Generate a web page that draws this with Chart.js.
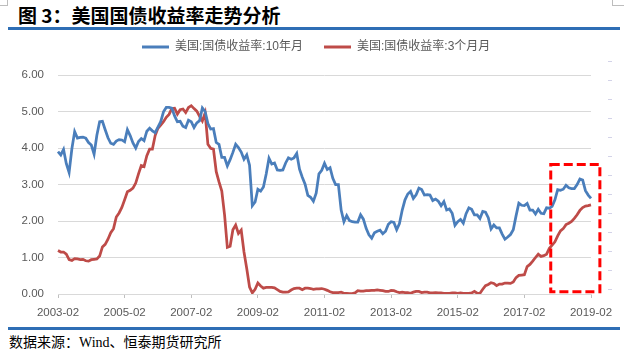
<!DOCTYPE html>
<html><head><meta charset="utf-8">
<script src="https://cdn.jsdelivr.net/npm/chart.js@4.4.1/dist/chart.umd.min.js"></script>
<style>
html,body{margin:0;padding:0;background:#fff;}
#wrap{position:relative;width:624px;height:355px;overflow:hidden;background:#fff;}
#title{position:absolute;left:18px;top:4px;font:bold 19px "Noto Sans CJK SC",sans-serif;color:#000;line-height:22px;white-space:nowrap;}
.rule{position:absolute;left:8px;width:612px;height:3px;background:#2E6EB5;}
#src{position:absolute;left:9px;top:334px;font:14px "Liberation Serif","Noto Sans CJK SC",serif;color:#000;line-height:18px;white-space:nowrap;}
#c{position:absolute;left:0;top:20px;}
.mk{position:absolute;background:#bdbdbd;}
</style></head>
<body>
<div id="wrap">
  <div class="mk" style="left:7px;top:0;width:1px;height:6px"></div>
  <div class="mk" style="left:0;top:5px;width:7px;height:1px"></div>
  <div class="mk" style="left:612px;top:0;width:1px;height:6px"></div>
  <div class="mk" style="left:612px;top:5px;width:12px;height:1px"></div>
  <div id="title">图 3：美国国债收益率走势分析</div>
  <div class="rule" style="top:27px"></div>
  <canvas id="c" width="624" height="305"></canvas>
  <div class="rule" style="top:327px"></div>
  <div id="src">数据来源：Wind、恒泰期货研究所</div>
</div>
<script>
// ---- categories (monthly, 2003-02 .. 2019-02) ----
const months = [];
for (let y = 2003, m = 2; y < 2019 || (y === 2019 && m <= 2); ) {
  months.push(y + '-' + String(m).padStart(2, '0'));
  m++; if (m > 12) { m = 1; y++; }
}
const xTickLabels = ['2003-02','2005-02','2007-02','2009-02','2011-02','2013-02','2015-02','2017-02','2019-02'];
const yTickValues = [0, 1, 2, 3, 4, 5, 6];

const seriesNames = ['美国:国债收益率:10年月', '美国:国债收益率:3个月月'];

// 10-year yield (%)
const yield10y = [
  3.90,3.81,3.96,3.57,3.33,3.98,4.45,4.27,4.29,4.30,4.27,
  4.15,4.08,3.83,4.35,4.72,4.73,4.50,4.28,4.13,4.10,4.19,4.23,
  4.22,4.17,4.50,4.34,4.14,4.00,4.18,4.26,4.20,4.46,4.54,4.47,
  4.42,4.57,4.72,4.99,5.11,5.11,5.09,4.88,4.72,4.73,4.60,4.56,
  4.76,4.72,4.56,4.69,4.75,5.10,5.00,4.67,4.52,4.53,4.15,4.10,
  3.74,3.74,3.51,3.68,3.88,4.10,4.01,3.89,3.69,3.81,3.53,2.42,
  2.52,2.87,2.82,2.93,3.29,3.72,3.56,3.59,3.40,3.39,3.40,3.59,
  3.73,3.69,3.73,3.85,3.42,3.20,3.01,2.70,2.65,2.54,2.76,3.29,
  3.39,3.58,3.41,3.46,3.17,3.00,3.00,2.30,1.98,2.15,2.01,1.98,
  1.97,1.97,2.17,2.05,1.80,1.62,1.53,1.68,1.72,1.75,1.65,1.72,
  1.91,1.98,1.96,1.76,1.93,2.30,2.58,2.74,2.81,2.62,2.72,2.90,
  2.86,2.71,2.72,2.71,2.56,2.60,2.54,2.42,2.53,2.30,2.33,2.21,
  1.88,1.98,2.04,1.94,2.20,2.36,2.32,2.17,2.17,2.07,2.26,2.24,
  2.09,1.78,1.89,1.81,1.81,1.64,1.50,1.56,1.63,1.76,2.14,2.49,
  2.43,2.42,2.48,2.30,2.30,2.19,2.32,2.21,2.20,2.36,2.35,2.40,
  2.58,2.86,2.84,2.87,2.98,2.91,2.89,2.89,3.00,3.15,3.12,2.83,
  2.71,2.62
];

// 3-month yield (%)
const yield3m = [
  1.19,1.15,1.15,1.09,0.94,0.92,0.97,0.96,0.94,0.95,0.91,
  0.90,0.94,0.95,0.96,1.04,1.29,1.36,1.50,1.68,1.79,2.11,2.22,
  2.37,2.58,2.80,2.84,2.90,3.04,3.29,3.52,3.49,3.79,3.97,3.97,
  4.34,4.54,4.63,4.72,4.84,4.92,5.08,5.09,4.93,5.05,5.07,4.97,
  5.11,5.16,5.08,5.01,4.87,4.74,4.96,4.10,3.99,3.97,3.35,3.07,
  2.82,2.17,1.28,1.31,1.76,1.89,1.66,1.75,1.15,0.69,0.19,0.03,
  0.13,0.30,0.22,0.16,0.18,0.18,0.18,0.17,0.12,0.07,0.05,0.05,
  0.06,0.11,0.15,0.16,0.16,0.12,0.16,0.16,0.15,0.13,0.14,0.14,
  0.15,0.13,0.10,0.06,0.04,0.04,0.04,0.05,0.02,0.02,0.01,0.01,
  0.03,0.09,0.08,0.08,0.09,0.09,0.10,0.10,0.11,0.10,0.09,0.07,
  0.07,0.10,0.09,0.06,0.04,0.05,0.04,0.04,0.02,0.05,0.07,0.07,
  0.04,0.05,0.05,0.03,0.03,0.04,0.03,0.03,0.02,0.02,0.02,0.03,
  0.03,0.02,0.03,0.02,0.02,0.02,0.03,0.07,0.02,0.02,0.13,0.23,
  0.26,0.31,0.29,0.23,0.27,0.27,0.30,0.30,0.29,0.33,0.45,0.51,
  0.52,0.53,0.75,0.81,0.90,1.00,1.09,1.03,1.05,1.09,1.25,1.34,
  1.43,1.59,1.73,1.79,1.90,1.94,1.99,2.07,2.17,2.29,2.37,2.41,
  2.42,2.44
];

// highlighted region (red dashed box), in data units
const boxFromIndex = 177.5, boxToIndex = 195.2;
const boxTop = 3.55, boxBottom = 0.06;

const blue = '#4A7EBB', red = '#BE4B48';
const axisFont = { family: '"Liberation Sans","Noto Sans CJK SC",sans-serif', size: 11.5 };

const legendTweak = {
  id: 'legendTweak',
  beforeLayout(chart) {
    const l = chart.legend;
    if (l && !l.__patched) {
      const f = l.fit;
      l.fit = function () { f.call(this); this.height = 55; };
      l.__patched = true;
    }
  },
  afterLayout(chart) {
    const l = chart.legend; if (!l) return;
    const d = 121; l.left += d; l.right += d;
  }
};

const highlightBox = {
  id: 'highlightBox',
  afterDatasetsDraw(chart) {
    const { ctx, scales: { x, y } } = chart;
    const x1 = x.getPixelForValue(boxFromIndex), x2 = x.getPixelForValue(boxToIndex);
    const y1 = y.getPixelForValue(boxTop), y2 = y.getPixelForValue(boxBottom);
    ctx.save();
    ctx.strokeStyle = '#FF0000'; ctx.lineWidth = 3; ctx.setLineDash([9, 4]);
    ctx.strokeRect(x1, y1, x2 - x1, y2 - y1);
    ctx.restore();
  }
};

const sideMarks = {
  id: 'sideMarks',
  afterDraw(chart) {
    const ctx = chart.ctx; const x0 = chart.chartArea.right + 17;
    ctx.save(); ctx.strokeStyle = '#D3D3E8'; ctx.lineWidth = 1;
    for (let i = 0; i < 13; i++) {
      const yy = 41 + i * 19 + 0.5;
      ctx.beginPath(); ctx.moveTo(x0, yy); ctx.lineTo(x0 + 4, yy); ctx.stroke();
    }
    ctx.restore();
  }
};

new Chart(document.getElementById('c'), {
  type: 'line',
  data: {
    labels: months,
    datasets: [
      { label: seriesNames[0], data: yield10y, borderColor: blue, backgroundColor: blue, borderWidth: 2.75, pointRadius: 0, tension: 0, fill: false },
      { label: seriesNames[1], data: yield3m, borderColor: red, backgroundColor: red, borderWidth: 2.75, pointRadius: 0, tension: 0, fill: false }
    ]
  },
  options: {
    responsive: false, animation: false, devicePixelRatio: 1,
    layout: { padding: { left: 0, right: 33, top: 0, bottom: 0 } },
    plugins: {
      tooltip: { enabled: false },
      legend: {
        position: 'top', align: 'start',
        labels: {
          boxWidth: 27, boxHeight: 3, padding: 21, color: '#595959',
          font: { family: '"Liberation Sans","Noto Sans CJK SC",sans-serif', size: 12 },
          generateLabels(chart) {
            return Chart.defaults.plugins.legend.labels.generateLabels(chart).map(it => ({ ...it, lineWidth: 0, strokeStyle: 'transparent' }));
          }
        }
      }
    },
    scales: {
      x: {
        type: 'category', offset: false,
        grid: { drawOnChartArea: false, drawTicks: true, tickLength: 4, color: '#BFBFBF' },
        border: { display: true, color: '#D9D9D9', width: 1 },
        ticks: {
          autoSkip: false, maxRotation: 0, minRotation: 0, padding: 8, color: '#595959', font: axisFont,
          callback(v, i) { const l = months[i]; return xTickLabels.includes(l) ? l : null; }
        },
        afterFit(s) { s.height = 31; }
      },
      y: {
        min: 0, max: 6,
        afterBuildTicks(s) { s.ticks = yTickValues.map(v => ({ value: v })); },
        grid: { color: '#D9D9D9', lineWidth: 1, drawTicks: false },
        border: { display: false },
        ticks: { padding: 14, color: '#595959', font: axisFont, callback: v => Number(v).toFixed(2) },
        afterFit(s) { s.width = 58; }
      }
    }
  },
  plugins: [legendTweak, highlightBox, sideMarks]
});
</script>
</body></html>
